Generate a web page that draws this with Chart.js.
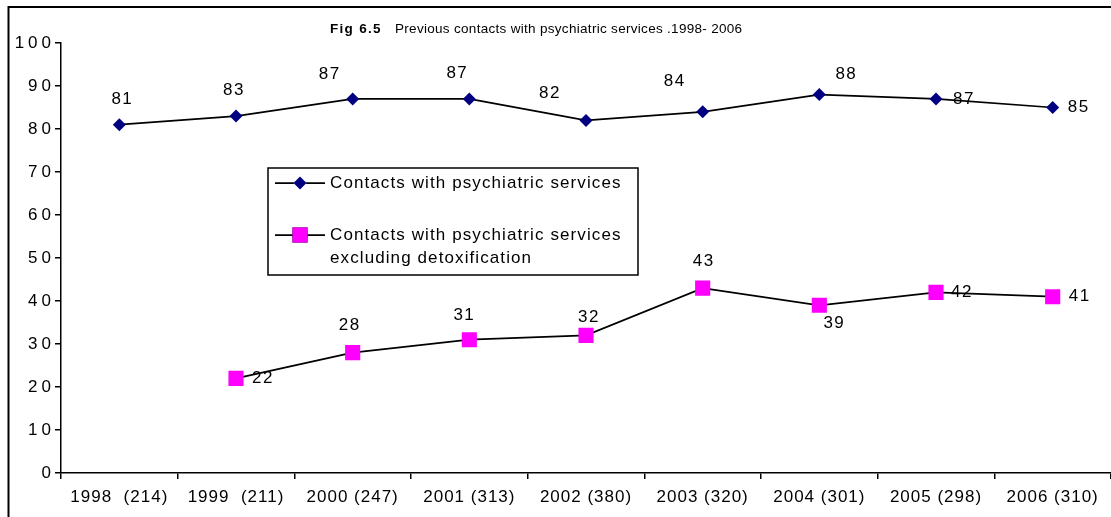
<!DOCTYPE html>
<html>
<head>
<meta charset="utf-8">
<script src="https://cdn.jsdelivr.net/npm/chart.js@4.4.0/dist/chart.umd.min.js"></script>
<style>
  html, body { margin: 0; padding: 0; background: #fff; }
  canvas { display: block; }
</style>
</head>
<body>
<canvas id="c" width="1111" height="517"></canvas>
<script>
// ---- data ----
const categories = ['1998  (214)', '1999  (211)', '2000 (247)', '2001 (313)', '2002 (380)', '2003 (320)', '2004 (301)', '2005 (298)', '2006 (310)'];
const contactsAll = [81, 83, 87, 87, 82, 84, 88, 87, 85];
const contactsExclDetox = [null, 22, 28, 31, 32, 43, 39, 42, 41];
const seriesNames = ['Contacts with psychiatric services', 'Contacts with psychiatric services\nexcluding detoxification'];
const yTicks = [0, 10, 20, 30, 40, 50, 60, 70, 80, 90, 100];
const titleBold = 'Fig 6.5';
const titleText = 'Previous contacts with psychiatric services .1998- 2006';

// label offsets relative to each point (style, not data)
const labelOffsets = [
  [[2,-25],[-3,-26],[-24,-25],[-13,-26],[-37,-27],[-29,-30],[26,-20],[27,0],[25,0]],
  [null,[26,0],[-4,-27],[-6,-24],[2,-18],[0,-27],[14,18],[25,0],[26,0]]
];

const FONT = '"Liberation Sans", Arial, sans-serif';

const frame = {
  id: 'frame',
  beforeDraw(chart) {
    const ctx = chart.ctx;
    ctx.save();
    ctx.fillStyle = '#fff';
    ctx.fillRect(0, 0, chart.width, chart.height);
    ctx.strokeStyle = '#000';
    ctx.lineWidth = 2;
    ctx.beginPath();
    ctx.moveTo(8.5, chart.height);
    ctx.lineTo(8.5, 7);
    ctx.lineTo(chart.width, 7);
    ctx.stroke();
    // title
    ctx.fillStyle = '#000';
    ctx.textBaseline = 'middle';
    ctx.textAlign = 'left';
    ctx.font = 'bold 13.5px ' + FONT;
    ctx.letterSpacing = '1.3px';
    ctx.fillText(titleBold, 330, 29);
    ctx.font = '13.5px ' + FONT;
    ctx.letterSpacing = '0.3px';
    ctx.fillText(titleText, 395, 29);
    ctx.restore();
    chart.ctx.letterSpacing = '1px';
  },
  afterLayout(chart) {
    const s = chart.scales.y;
    if (!s._wrapped) {
      const orig = s.drawLabels.bind(s);
      s.drawLabels = function (ca) {
        const c = this.ctx;
        const prev = c.letterSpacing;
        c.letterSpacing = '4px';
        orig(ca);
        c.letterSpacing = prev;
      };
      s._wrapped = true;
    }
  },
  afterDatasetsDraw(chart) {
    const ctx = chart.ctx;
    ctx.save();
    ctx.font = '17px ' + FONT;
    ctx.letterSpacing = '1.5px';
    ctx.fillStyle = '#000';
    ctx.textAlign = 'center';
    ctx.textBaseline = 'middle';
    chart.data.datasets.forEach((ds, di) => {
      const meta = chart.getDatasetMeta(di);
      meta.data.forEach((pt, i) => {
        const v = ds.data[i];
        if (v == null) return;
        const off = labelOffsets[di][i] || [0, -25];
        ctx.fillText(String(v), pt.x + off[0] + 1, pt.y + off[1]);
      });
    });
    ctx.restore();
  },
  afterDraw(chart) {
    // legend box
    const ctx = chart.ctx;
    ctx.save();
    const bx = 268, by = 168, bw = 370, bh = 107;
    ctx.fillStyle = '#fff';
    ctx.fillRect(bx, by, bw, bh);
    ctx.strokeStyle = '#000';
    ctx.lineWidth = 1.5;
    ctx.strokeRect(bx, by, bw, bh);
    const rows = [183, 235];
    ctx.font = '17px ' + FONT;
    ctx.letterSpacing = '1.1px';
    ctx.textBaseline = 'middle';
    ctx.textAlign = 'left';
    chart.data.datasets.forEach((ds, di) => {
      const y = rows[di];
      ctx.strokeStyle = ds.borderColor;
      ctx.lineWidth = ds.borderWidth;
      ctx.beginPath();
      ctx.moveTo(bx + 7, y);
      ctx.lineTo(bx + 57, y);
      ctx.stroke();
      Chart.helpers.drawPoint(ctx, {
        pointStyle: ds.pointStyle, radius: ds.pointRadius, borderWidth: 0, rotation: 0
      }, bx + 32, y);
      ctx.fillStyle = ds.pointBackgroundColor;
      ctx.fill();
      ctx.fillStyle = '#000';
      ds.label.split('\n').forEach((line, li) => {
        ctx.fillText(line, bx + 62, y + li * 23);
      });
    });
    ctx.restore();
  }
};

new Chart(document.getElementById('c'), {
  type: 'line',
  data: {
    labels: categories,
    datasets: [
      {
        label: seriesNames[0],
        data: contactsAll,
        borderColor: '#000',
        borderWidth: 1.75,
        pointStyle: 'rectRot',
        pointRadius: 6.5,
        pointHoverRadius: 6.5,
        pointBackgroundColor: '#000080',
        pointBorderColor: '#000080',
        pointBorderWidth: 0,
        tension: 0
      },
      {
        label: seriesNames[1],
        data: contactsExclDetox,
        borderColor: '#000',
        borderWidth: 1.75,
        pointStyle: 'rect',
        pointRadius: 10.7,
        pointHoverRadius: 10.7,
        pointBackgroundColor: '#FF00FF',
        pointBorderColor: '#FF00FF',
        pointBorderWidth: 0,
        tension: 0,
        spanGaps: false
      }
    ]
  },
  options: {
    responsive: false,
    animation: false,
    events: [],
    layout: { autoPadding: false, padding: { left: 0, top: 43, right: -8, bottom: 0 } },
    plugins: {
      legend: { display: false },
      title: { display: false },
      tooltip: { enabled: false }
    },
    scales: {
      x: {
        type: 'category',
        offset: true,
        grid: { offset: true, drawOnChartArea: false, drawTicks: true, tickLength: 6, color: '#000', lineWidth: 1.5 },
        border: { display: true, color: '#000', width: 1.5 },
        ticks: { color: '#000', font: { family: FONT, size: 17 }, padding: 8, autoSkip: false, maxRotation: 0, minRotation: 0 },
        afterFit(scale) { scale.height = 44; scale.paddingLeft = 0; scale.paddingRight = 0; }
      },
      y: {
        min: 0, max: 100,
        afterBuildTicks(scale) { scale.ticks = yTicks.map(v => ({ value: v })); },
        grid: { drawOnChartArea: false, drawTicks: true, tickLength: 6, color: '#000', lineWidth: 1.5 },
        border: { display: true, color: '#000', width: 1.5 },
        ticks: { color: '#000', font: { family: FONT, size: 17 }, padding: 0 },
        afterFit(scale) { scale.width = 61; scale.paddingTop = 0; scale.paddingBottom = 0; }
      }
    }
  },
  plugins: [frame]
});
</script>
</body>
</html>
